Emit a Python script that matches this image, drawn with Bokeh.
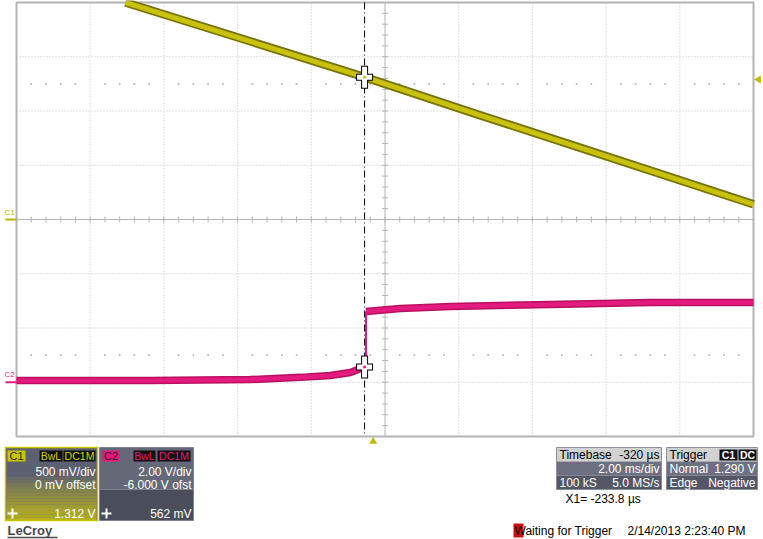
import math
from bokeh.plotting import figure
from bokeh.models import Range1d
from bokeh.core.properties import value
from bokeh.embed import file_html
from bokeh.resources import INLINE

# ---------------- scope settings / readouts ----------------
MS_PER_DIV = 2.0
TB_DELAY_MS = -0.320
C1_V_PER_DIV = 0.5
C1_OFFSET_V = 0.0
C2_V_PER_DIV = 2.0
C2_OFFSET_V = -6.0
TRIG_LEVEL_V = 1.290
X1_MS = -0.2338
C1_AT_X1_V = 1.312
C2_AT_X1_V = 0.562
SAMPLES = "100 kS"
SAMPLE_RATE = "5.0 MS/s"
DATE_STR = "2/14/2013 2:23:40 PM"

# ---------------- traces (time in ms relative to trigger, volts) ----------------
c1_t = [-6.72, -3.60, -0.234, 2.91, 6.17, 10.32]
c1_v = [2.00, 1.67, 1.312, 0.96, 0.60, 0.14]

c2_pre_t = [-9.68, -6.04, -3.33, -1.97, -1.16, -0.62, -0.234, -0.196]
c2_pre_v = [0.06, 0.06, 0.10, 0.18, 0.25, 0.36, 0.562, 0.60]
c2_post_t = [-0.196, 0.74, 2.10, 4.81, 7.52, 10.32]
c2_post_v = [2.61, 2.72, 2.79, 2.87, 2.94, 2.94]

# ---------------- geometry ----------------
W, H = 763, 539
ORG_X, ORG_Y = 0, 0
GRID_L, GRID_R, GRID_T, GRID_B = 16, 753, 2, 436
NX, NY = 10, 8
px_per_ms = (GRID_R - GRID_L) / (NX * MS_PER_DIV)
px_per_div = (GRID_B - GRID_T) / NY
t_center = -TB_DELAY_MS
t_left = t_center - NX / 2 * MS_PER_DIV
t_right = t_center + NX / 2 * MS_PER_DIV


def X(px):
    return t_left + (px - GRID_L) / px_per_ms


def Y(py):
    return NY / 2 - (py - GRID_T) / px_per_div


y_lo, y_hi = Y(ORG_Y + H), Y(ORG_Y)

p = figure(width=W, height=H,
           x_range=Range1d(X(ORG_X), X(ORG_X + W)),
           y_range=Range1d(y_lo, y_hi),
           output_backend="svg", toolbar_location=None, min_border=0,
           x_axis_location=None, y_axis_location=None,
           outline_line_color=None, background_fill_color="white",
           border_fill_color="white")
p.grid.grid_line_color = None
p.extra_y_ranges = {
    "c1": Range1d(y_lo * C1_V_PER_DIV - C1_OFFSET_V, y_hi * C1_V_PER_DIV - C1_OFFSET_V),
    "c2": Range1d(y_lo * C2_V_PER_DIV - C2_OFFSET_V, y_hi * C2_V_PER_DIV - C2_OFFSET_V),
}

FONT = value("Liberation Sans")

# ---------------- graticule ----------------
vt = [t_left + k * MS_PER_DIV for k in range(1, NX) if k != NX // 2]
p.segment(x0=vt, x1=vt, y0=[-NY / 2] * len(vt), y1=[NY / 2] * len(vt),
          line_color="#c2c2c2", line_dash="1 2", line_width=1)
hy = [k for k in range(-NY // 2 + 1, NY // 2) if k != 0]
p.segment(x0=[t_left] * len(hy), x1=[t_right] * len(hy), y0=hy, y1=hy,
          line_color="#c2c2c2", line_dash="1 2", line_width=1)
dx = [t_left + i * 0.2 * MS_PER_DIV for i in range(NX * 5) if i % 5 != 0]
p.scatter(x=dx + dx, y=[2.5] * len(dx) + [-2.5] * len(dx), marker="square",
          size=1.6, fill_color="#b0b0b0", line_color=None)
p.segment(x0=[t_center, t_left], x1=[t_center, t_right], y0=[-NY / 2, 0], y1=[NY / 2, 0],
          line_color="#b4b4b4", line_width=1)
tx = [t_left + i * 0.2 * MS_PER_DIV for i in range(1, NX * 5)]
p.scatter(x=tx, y=[0] * len(tx), marker="dash", angle=math.pi / 2, size=6,
          line_color="#b4b4b4", line_width=1)
ty = [-NY / 2 + i * 0.2 for i in range(1, NY * 5)]
p.scatter(x=[t_center] * len(ty), y=ty, marker="dash", size=6,
          line_color="#b4b4b4", line_width=1)
p.quad(left=[t_left], right=[t_right], top=[NY / 2], bottom=[-NY / 2],
       fill_color=None, line_color="#b4b4b4", line_width=2)

# ---------------- traces ----------------
YEL_D, YEL = "#77720a", "#c8c20e"
MAG_D, MAG = "#b8105f", "#e41a80"
p.line(c1_t, c1_v, y_range_name="c1", line_color=YEL_D, line_width=8.5)
p.line(c1_t, c1_v, y_range_name="c1", line_color=YEL, line_width=5)
p.line(c2_pre_t, c2_pre_v, y_range_name="c2", line_color=MAG_D, line_width=7.5)
p.line(c2_pre_t, c2_pre_v, y_range_name="c2", line_color=MAG, line_width=4.5)
p.line(c2_post_t, c2_post_v, y_range_name="c2", line_color=MAG_D, line_width=7.5)
p.line(c2_post_t, c2_post_v, y_range_name="c2", line_color=MAG, line_width=4.5)
p.segment(x0=[c2_pre_t[-1]], x1=[c2_post_t[0]], y0=[c2_pre_v[-1]], y1=[c2_post_v[0]],
          y_range_name="c2", line_color=MAG, line_width=2)

# ---------------- cursor ----------------
p.segment(x0=[X1_MS], x1=[X1_MS], y0=[NY / 2], y1=[-NY / 2],
          line_color="black", line_dash="7 3 1 3", line_width=1)
for yv, rng, col in [(C1_AT_X1_V, "c1", YEL), (C2_AT_X1_V, "c2", MAG)]:
    p.rect(x=[X1_MS, X1_MS], y=[yv, yv], width=[7, 17], height=[23, 7],
           width_units="screen", height_units="screen", y_range_name=rng,
           fill_color="black", line_color=None)
    p.rect(x=[X1_MS, X1_MS], y=[yv, yv], width=[5, 15], height=[21, 5],
           width_units="screen", height_units="screen", y_range_name=rng,
           fill_color="white", line_color=None)
    p.scatter(x=[X1_MS], y=[yv], y_range_name=rng, marker="circle", size=3,
              fill_color=col, line_color=None)

# ---------------- channel / trigger markers ----------------
p.segment(x0=[X(5)], x1=[X(16)], y0=[-C1_OFFSET_V], y1=[-C1_OFFSET_V], y_range_name="c1",
          line_color="#b8b400", line_width=2)
p.text(x=[X(4)], y=[-C1_OFFSET_V], text=["C1"], y_range_name="c1", y_offset=-3,
       text_font=FONT, text_font_size="8px", text_color="#b8b400",
       text_baseline="bottom", text_align="left")
p.segment(x0=[X(5)], x1=[X(16)], y0=[0], y1=[0], y_range_name="c2",
          line_color=MAG, line_width=2)
p.text(x=[X(4)], y=[0], text=["C2"], y_range_name="c2", y_offset=-3,
       text_font=FONT, text_font_size="8px", text_color=MAG,
       text_baseline="bottom", text_align="left")
p.scatter(x=[X(758)], y=[TRIG_LEVEL_V], y_range_name="c1", marker="triangle",
          angle=math.pi / 2, size=8, fill_color="#c0bc00", line_color=None)
p.scatter(x=[0.0], y=[Y(441)], marker="triangle", size=8,
          fill_color="#c0bc00", line_color=None)


# ---------------- bottom panel ----------------
def box(x0, y0, x1, y1, fill, line=None, lw=1):
    p.quad(left=[X(x0)], right=[X(x1)], top=[Y(y0)], bottom=[Y(y1)],
           fill_color=fill, line_color=line, line_width=lw)


def txt(px, py, s, color="white", size="11.5px", align="left", style="normal",
        baseline="middle", font=FONT):
    p.text(x=[X(px)], y=[Y(py)], text=[s], text_color=color, text_font=font,
           text_font_size=size, text_align=align, text_baseline=baseline,
           text_font_style=style)


def hexmix(a, b, f):
    ca = [int(a[i:i + 2], 16) for i in (1, 3, 5)]
    cb = [int(b[i:i + 2], 16) for i in (1, 3, 5)]
    return "#" + "".join("%02x" % round(ca[k] + (cb[k] - ca[k]) * f) for k in range(3))


# C1 box
box(5, 447, 97, 520, "#5c6071")
n = 14
for i in range(n):
    y0 = 476 + i * (520 - 476) / n
    y1 = 476 + (i + 1) * (520 - 476) / n
    box(6, y0, 96, y1, hexmix("#5c6071", "#b4ae20", ((i + 1) / n) ** 0.8))
box(5, 447, 97, 520, None, "#c8c400", 1.5)
box(7, 450, 25, 461, "#c8c400")
txt(16, 455.5, "C1", color="#2a2a00", size="11px", align="center")
box(39, 450, 62, 461, "#111111")
txt(50.5, 455.5, "BwL", color="#d4d000", size="10.5px", align="center")
box(63, 450, 95, 461, "#111111")
txt(79, 455.5, "DC1M", color="#d4d000", size="10.5px", align="center")
txt(95, 471, f"{C1_V_PER_DIV * 1000:.0f} mV/div", align="right", size="12px")
txt(95, 484, f"{C1_OFFSET_V * 1000:.0f} mV offset", align="right", size="12px")
txt(95, 513, f"{C1_AT_X1_V:.3f} V", align="right", size="12px")
p.scatter(x=[X(12)], y=[Y(513)], marker="cross", size=10, line_color="white", line_width=2)

# C2 box
box(99, 447, 193, 489, "#646877")
box(99, 489, 193, 520, "#4a4e5b")
box(99, 447, 193, 520, None, "#80838e", 1)
box(102, 450, 119, 461, MAG)
txt(110.5, 455.5, "C2", color="#401020", size="11px", align="center")
box(133, 450, 155, 461, "#111111")
txt(144, 455.5, "BwL", color=MAG, size="10.5px", align="center")
box(157, 450, 190, 461, "#111111")
txt(173.5, 455.5, "DC1M", color=MAG, size="10.5px", align="center")
txt(191, 471, f"{C2_V_PER_DIV:.2f} V/div", align="right", size="12px")
txt(191, 484, f"{C2_OFFSET_V:.3f} V ofst", align="right", size="12px")
txt(191, 513, f"{C2_AT_X1_V * 1000:.0f} mV", align="right", size="12px")
p.scatter(x=[X(106)], y=[Y(513)], marker="cross", size=10, line_color="white", line_width=2)

# Timebase box
box(556, 447, 661, 461, "#d2d2d2")
box(556, 461, 661, 475, "#6c7080")
box(556, 475, 661, 489, "#545866")
box(556, 447, 661, 489, None, "#8a8d96", 1)
txt(559, 454, "Timebase", color="black", size="12px")
txt(659, 454, f"{TB_DELAY_MS * 1000:.0f} µs", color="black", align="right", size="12px")
txt(659, 468.5, f"{MS_PER_DIV:.2f} ms/div", align="right", size="12px")
txt(559, 482.5, SAMPLES, size="12px")
txt(659, 482.5, SAMPLE_RATE, align="right", size="12px")

# Trigger box
box(666, 447, 757, 461, "#d2d2d2")
box(666, 461, 757, 475, "#6c7080")
box(666, 475, 757, 489, "#545866")
box(666, 447, 757, 489, None, "#8a8d96", 1)
txt(669, 454, "Trigger", color="black", size="12px")
box(719, 449, 737, 460, "#111111")
txt(728, 454.5, "C1", color="white", size="10.5px", align="center", style="bold")
box(738, 449, 756, 460, "#111111")
txt(747, 454.5, "DC", color="white", size="10.5px", align="center", style="bold")
txt(669, 468.5, "Normal", size="12px")
txt(755, 468.5, f"{TRIG_LEVEL_V:.3f} V", align="right", size="12px")
txt(669, 482.5, "Edge", size="12px")
txt(755, 482.5, "Negative", align="right", size="12px")

txt(565, 498, f"X1=  {X1_MS * 1000:.1f} µs", color="black", size="12px")

# status line
box(513, 523, 523, 537, "#d01010")
txt(514, 530, "Waiting for Trigger", color="black", size="12px")
txt(627, 530, DATE_STR, color="black", size="12px")

# LeCroy logo
txt(7, 530, "LeCroy", color="#4a4a4a", size="13px", style="bold")
p.segment(x0=[X(7)], x1=[X(57)], y0=[Y(537)], y1=[Y(537)], line_color="#4a4a4a", line_width=1.5)

open("out.html", "w").write(file_html(p, INLINE))
